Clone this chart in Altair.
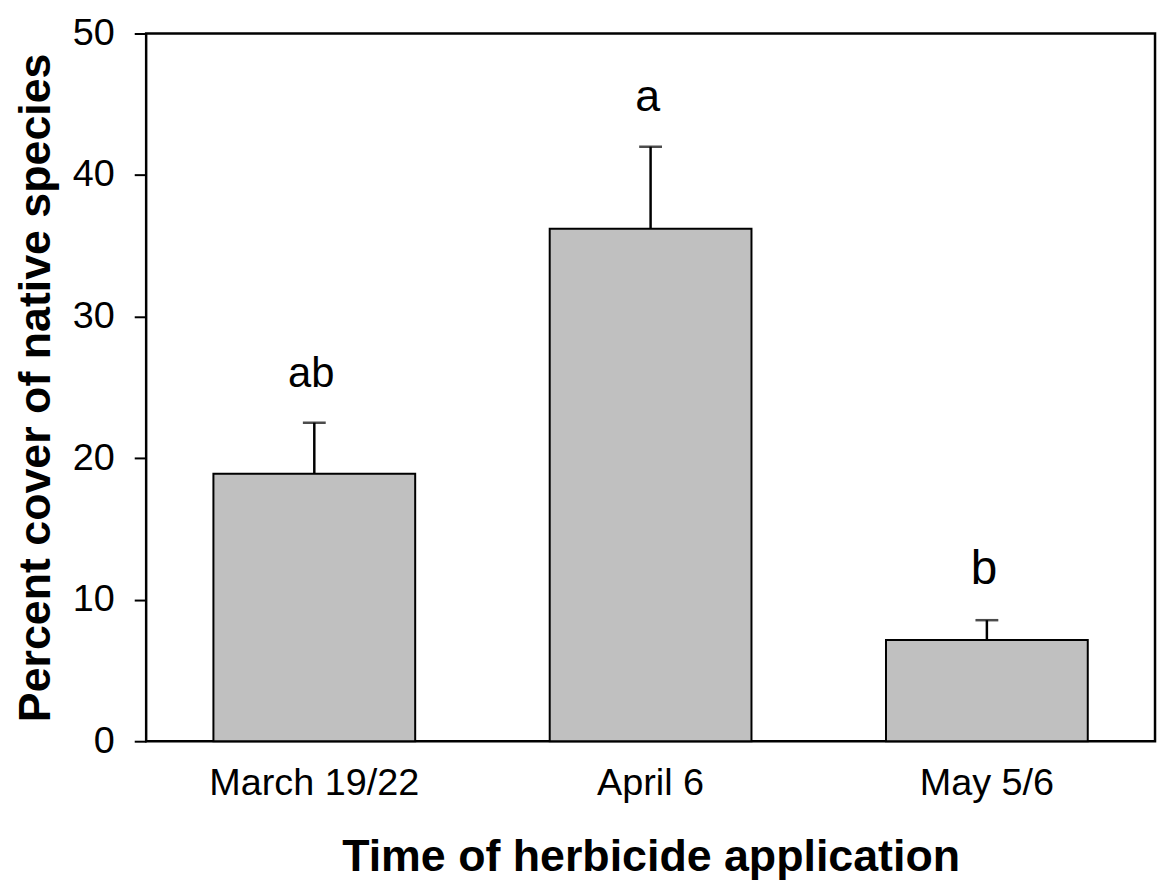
import altair as alt
import pandas as pd

categories = ["March 19/22", "April 6", "May 5/6"]
means = [18.9, 36.2, 7.15]
errors = [3.6, 5.8, 1.4]
letters = ["ab", "a", "b"]
y_ticks = [0, 10, 20, 30, 40, 50]

df = pd.DataFrame({
    "time": categories,
    "mean": means,
    "err": errors,
    "letter": letters,
})
df["upper"] = df["mean"] + df["err"]

FONT = "Liberation Sans"

x_enc = alt.X(
    "time:N",
    sort=categories,
    scale=alt.Scale(paddingInner=0.4, paddingOuter=0.2),
    axis=alt.Axis(
        title="Time of herbicide application",
        labelAngle=0,
        labelFontSize=38,
        labelFont=FONT,
        labelColor="black",
        labelPadding=24,
        labelLimit=0,
        ticks=False,
        tickSize=0,
        domain=False,
        grid=False,
        titleFont=FONT,
        titleFontSize=45,
        titleFontWeight="bold",
        titleColor="black",
        titleBaseline="alphabetic",
        titleAlign="center",
        titleX=507.5,
        titleY=130,
    ),
)

y_scale = alt.Scale(domain=[0, 50], nice=False)

base = alt.Chart(df).encode(x=x_enc)

bars = base.mark_bar(color="#c0c0c0", stroke="black", strokeWidth=2).encode(
    y=alt.Y(
        "mean:Q",
        scale=y_scale,
        axis=alt.Axis(
            title="Percent cover of native species",
            values=y_ticks,
            tickSize=12,
            tickWidth=2,
            tickColor="black",
            labelFontSize=38,
            labelFont=FONT,
            labelColor="black",
            labelPadding=20,
            domain=False,
            grid=False,
            titleFont=FONT,
            titleFontSize=45,
            titleFontWeight="bold",
            titleColor="black",
            titleAngle=-90,
            titleBaseline="alphabetic",
            titleAlign="center",
            titleX=-97,
            titleY=356,
        ),
    )
)

err = base.mark_rule(color="black", strokeWidth=2.5).encode(
    y=alt.Y("mean:Q", scale=y_scale), y2="upper:Q"
)

cap = base.mark_tick(color="black", size=23, thickness=2.5, orient="horizontal").encode(
    y=alt.Y("upper:Q", scale=y_scale)
)

txt = base.mark_text(font=FONT, color="black", baseline="alphabetic", align="center", dy=-36, dx=-3).encode(
    y=alt.Y("upper:Q", scale=y_scale),
    text="letter:N",
    size=alt.Size("time:N", sort=categories,
                  scale=alt.Scale(domain=categories, range=[42, 48, 50]), legend=None),
)

chart = (
    alt.layer(bars, err, cap, txt)
    .properties(
        width=1015,
        height=712,
        autosize=alt.AutoSizeParams(type="none"),
        padding={"left": 139, "top": 23, "right": 4, "bottom": 140},
    )
    .configure_view(stroke="black", strokeWidth=2.5)
)

chart.save("out.html", embed_options={"renderer": "svg", "actions": False})
